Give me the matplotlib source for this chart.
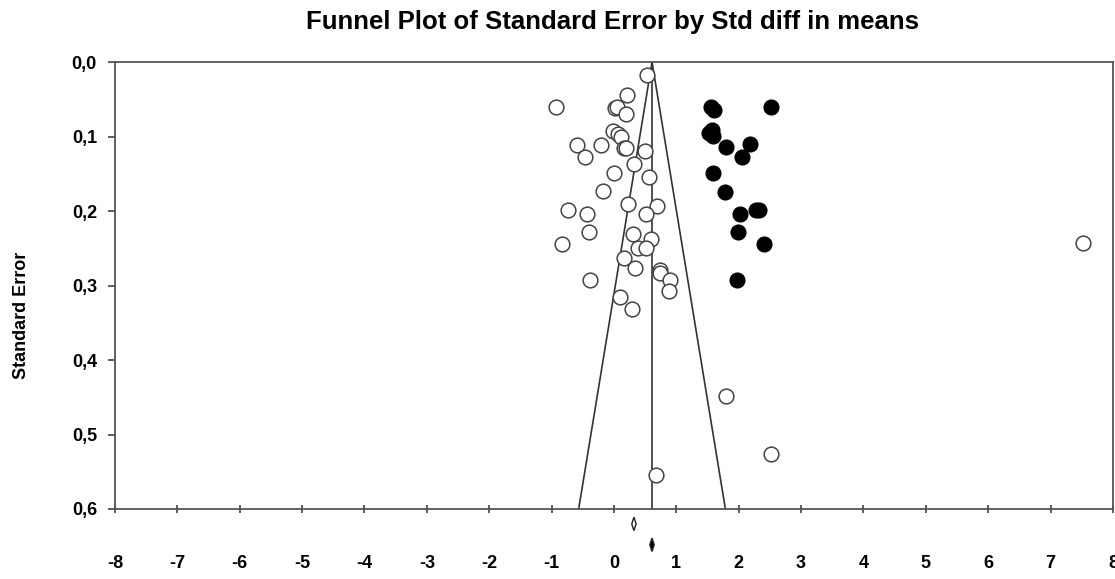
import matplotlib
matplotlib.use("Agg")
import matplotlib.pyplot as plt
from matplotlib.patches import Polygon
from matplotlib.ticker import FuncFormatter
import numpy as np

plt.rcParams['font.family'] = ['Liberation Sans', 'DejaVu Sans']

title = "Funnel Plot of Standard Error by Std diff in means"
ylabel = "Standard Error"

# observed studies (open circles): std diff in means, standard error
obs_x = [0.53, 0.21, -0.93, 0.02, 0.05, 0.20, -0.01, 0.07, 0.12, -0.59, -0.20, 0.16,
         0.20, 0.50, -0.46, 0.32, 0.00, 0.56, -0.18, -0.73, -0.44, 0.22, 0.69, 0.51,
         -0.40, -0.83, 0.30, 0.60, 0.39, 0.51, 0.16, 0.33, 0.73, 0.74, 0.90, -0.38,
         0.89, 0.10, 0.29, 1.79, 2.52, 0.67, 7.52]
obs_se = [0.017, 0.044, 0.061, 0.062, 0.061, 0.070, 0.093, 0.097, 0.101, 0.111, 0.112, 0.115,
          0.116, 0.119, 0.127, 0.137, 0.149, 0.155, 0.173, 0.199, 0.204, 0.191, 0.193, 0.204,
          0.228, 0.244, 0.231, 0.238, 0.249, 0.250, 0.263, 0.276, 0.279, 0.283, 0.293, 0.293,
          0.308, 0.316, 0.331, 0.448, 0.526, 0.554, 0.243]

# imputed studies (filled circles)
imp_x = [1.55, 1.60, 2.52, 1.52, 1.59, 1.57, 1.79, 2.18, 2.06, 1.58, 1.78, 2.02, 2.32,
         2.27, 1.99, 2.40, 1.98]
imp_se = [0.060, 0.064, 0.060, 0.095, 0.099, 0.091, 0.114, 0.110, 0.128, 0.149, 0.174,
          0.204, 0.199, 0.199, 0.228, 0.244, 0.292]

# combined estimates (observed, adjusted) with CI half-widths
comb_est = [0.32, 0.61]
comb_half = [0.035, 0.035]
comb_row = [0.620, 0.648]
comb_fill = ['white', 'black']

xticks = list(range(-8, 9))
yticks = [0.0, 0.1, 0.2, 0.3, 0.4, 0.5, 0.6]

fig = plt.figure(figsize=(11.15, 5.79), dpi=100)
ax = fig.add_axes([0.1031, 0.1209, 0.8951, 0.772])

ax.set_xlim(-8, 8)
ax.set_ylim(0.6, 0.0)

# funnel
center = comb_est[1]
se_max = 0.6
ax.plot([center, center], [0, se_max], color='#333333', lw=1.2, zorder=2)
ax.plot([center - 1.96 * se_max, center, center + 1.96 * se_max], [se_max, 0, se_max],
        color='#333333', lw=1.2, zorder=2)

ax.scatter(obs_x, obs_se, s=112, facecolors='white', edgecolors='#444444', linewidths=1.1,
           zorder=3, clip_on=False)
ax.scatter(imp_x, imp_se, s=112, facecolors='black', edgecolors='black', linewidths=1.0,
           zorder=4, clip_on=False)

for est, hw, row, fc in zip(comb_est, comb_half, comb_row, comb_fill):
    h = 0.009
    poly = Polygon([[est - hw, row], [est, row - h], [est + hw, row], [est, row + h]],
                   closed=True, facecolor=fc, edgecolor='#222222', lw=1.0, clip_on=False)
    ax.add_patch(poly)

for s in ax.spines.values():
    s.set_color('#555555')
    s.set_linewidth(1.3)

ax.set_xticks(xticks)
ax.set_yticks(yticks)
ax.yaxis.set_major_formatter(FuncFormatter(lambda v, p: f"{v:.1f}".replace('.', ',')))
ax.xaxis.set_major_formatter(FuncFormatter(lambda v, p: f"{int(v)}"))
ax.tick_params(axis='x', direction='inout', length=6, width=1.2, color='#444444',
               pad=30, labelsize=13)
ax.tick_params(axis='y', direction='out', length=5, width=1.2, color='#444444',
               pad=8, labelsize=13)
for lab in ax.get_xticklabels() + ax.get_yticklabels():
    lab.set_fontweight('bold')

fig.text(22 / 1115, 1 - 315 / 579, ylabel, rotation=90, ha='center', va='center',
         fontsize=13, fontweight='bold')
fig.text(0.549, 0.962, title, ha='center', va='center', fontsize=18.5, fontweight='bold')

fig.savefig("out.png", dpi=100)
